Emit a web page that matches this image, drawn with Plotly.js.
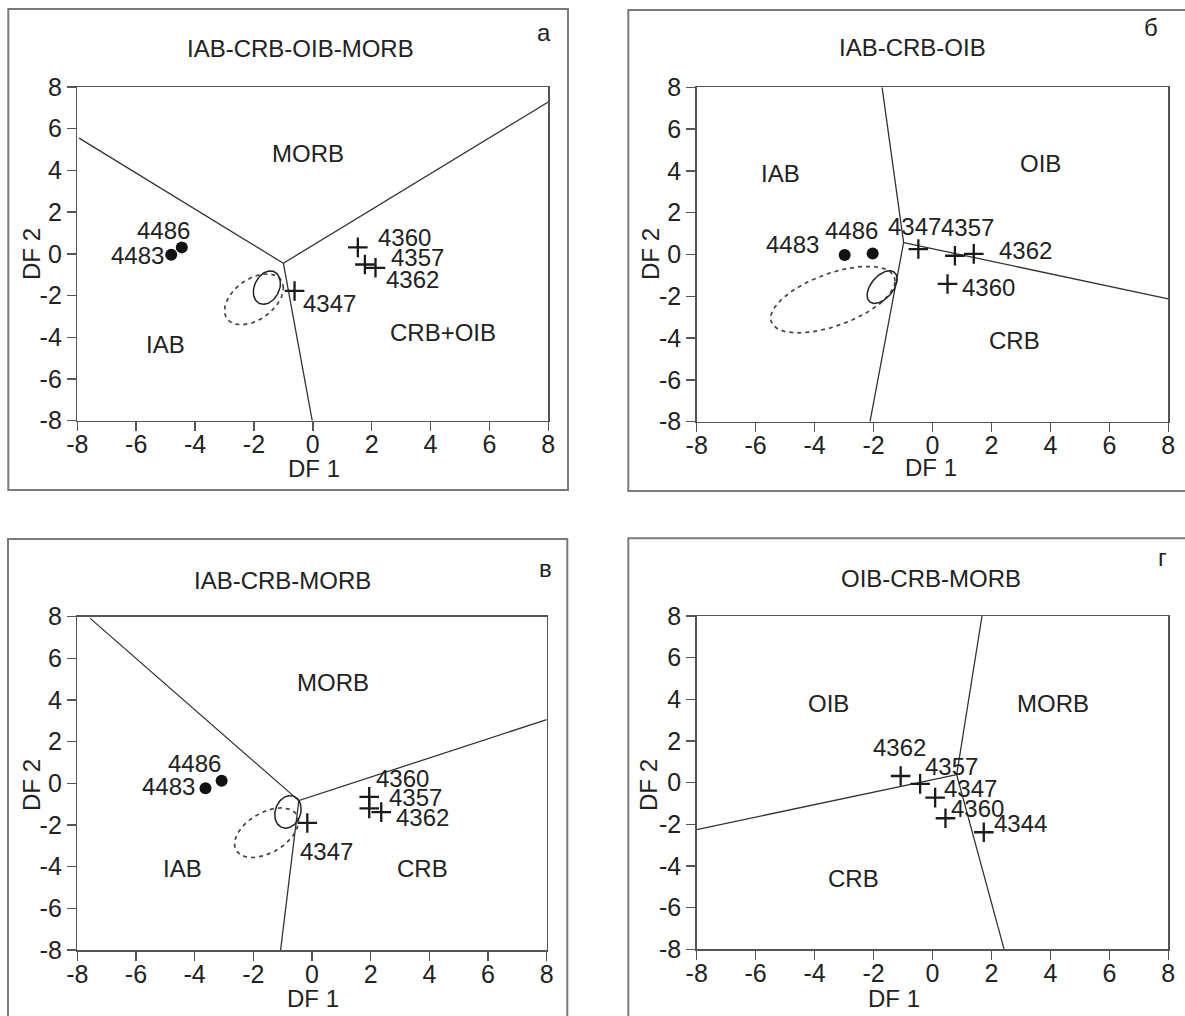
<!DOCTYPE html>
<html>
<head>
<meta charset="utf-8">
<script src="https://cdn.plot.ly/plotly-3.0.1.min.js"></script>
<style>
html,body{margin:0;padding:0;background:#fff;}
#chart{width:1185px;height:1016px;}
</style>
</head>
<body>
<div id="chart"></div>
<script>
// ---------- DATA ----------
const tickVals = [-8, -6, -4, -2, 0, 2, 4, 6, 8];
const tickText = ['-8', '-6', '-4', '-2', '0', '2', '4', '6', '8'];

// Panel а : IAB-CRB-OIB-MORB
const aLineX = [-7.94, -1.0, 8.0, null, -1.0, -0.02];
const aLineY = [5.55, -0.45, 7.28, null, -0.45, -8.0];
const aDotNames = ['4483', '4486'];
const aDotX = [-4.81, -4.45];
const aDotY = [-0.04, 0.31];
const aCrossNames = ['4360', '4357', '4362', '4347'];
const aCrossX = [1.53, 1.77, 2.13, -0.62];
const aCrossY = [0.31, -0.51, -0.67, -1.78];
const aEllSolid = [-1.56, -1.62, 0.46, 0.80, 75];   // cx, cy, rx, ry, phase
const aEllDotted = [-2.0, -2.18, 1.0, 1.22, 64];

// Panel б : IAB-CRB-OIB
const bLineX = [-1.71, -0.98, -2.12, null, -0.98, 8.0];
const bLineY = [8.0, 0.57, -8.0, null, 0.57, -2.12];
const bDotNames = ['4483', '4486'];
const bDotX = [-2.98, -2.03];
const bDotY = [-0.02, 0.05];
const bCrossNames = ['4347', '4357', '4362', '4360'];
const bCrossX = [-0.48, 0.76, 1.40, 0.51];
const bCrossY = [0.26, -0.06, 0.03, -1.41];
const bEllSolid = [-1.71, -1.56, 0.51, 0.78, 60];
const bEllDotted = [-3.38, -2.16, 2.11, 1.59, 56];

// Panel в : IAB-CRB-MORB
const cLineX = [-7.56, -0.45, 8.0, null, -0.45, -1.07];
const cLineY = [7.92, -0.83, 3.06, null, -0.83, -8.0];
const cDotNames = ['4483', '4486'];
const cDotX = [-3.63, -3.08];
const cDotY = [-0.23, 0.13];
const cCrossNames = ['4360', '4357', '4362', '4347'];
const cCrossX = [1.95, 1.95, 2.36, -0.16];
const cCrossY = [-0.65, -1.2, -1.38, -1.9];
const cEllSolid = [-0.82, -1.37, 0.45, 0.78, 80];
const cEllDotted = [-1.55, -2.37, 1.09, 1.19, 63];

// Panel г : OIB-CRB-MORB
const dLineX = [1.68, 0.82, 2.43, null, -8.0, 0.82];
const dLineY = [8.0, 0.38, -8.0, null, -2.25, 0.38];
const dCrossNames = ['4362', '4357', '4347', '4360', '4344'];
const dCrossX = [-1.08, -0.42, 0.09, 0.44, 1.74];
const dCrossY = [0.32, -0.06, -0.72, -1.71, -2.38];

// ---------- STYLE / LAYOUT ----------
const FONT = 'Liberation Sans, Arial, sans-serif';
const TXT = '#222';
const FS = 24;
const TICKFS = 25;
const W = 1185, H = 1016;

function ellipse(p) {
  const [cx, cy, rx, ry, ph] = p;
  const xs = [], ys = [];
  const n = 120;
  for (let i = 0; i <= n; i++) {
    const t = 2 * Math.PI * i / n;
    xs.push(cx + rx * Math.cos(t));
    ys.push(cy + ry * Math.cos(t - ph * Math.PI / 180));
  }
  return {xs, ys};
}

const traces = [];
function addPanel(k, lineX, lineY, dotX, dotY, crossX, crossY, ellS, ellD) {
  const xa = 'x' + (k === 1 ? '' : k), ya = 'y' + (k === 1 ? '' : k);
  traces.push({x: lineX, y: lineY, xaxis: xa, yaxis: ya, mode: 'lines', type: 'scatter',
    line: {color: '#333', width: 1.3}, hoverinfo: 'skip', cliponaxis: true});
  if (ellD) {
    const e = ellipse(ellD);
    traces.push({x: e.xs, y: e.ys, xaxis: xa, yaxis: ya, mode: 'lines', type: 'scatter',
      line: {color: '#444', width: 1.7, dash: '4px,4px'}, hoverinfo: 'skip'});
  }
  if (ellS) {
    const e = ellipse(ellS);
    traces.push({x: e.xs, y: e.ys, xaxis: xa, yaxis: ya, mode: 'lines', type: 'scatter',
      line: {color: '#222', width: 1.5}, hoverinfo: 'skip'});
  }
  if (dotX) {
    traces.push({x: dotX, y: dotY, xaxis: xa, yaxis: ya, mode: 'markers', type: 'scatter',
      marker: {symbol: 'circle', size: 12, color: '#111'}, hoverinfo: 'skip', cliponaxis: false});
  }
  traces.push({x: crossX, y: crossY, xaxis: xa, yaxis: ya, mode: 'markers', type: 'scatter',
    marker: {symbol: 'cross-thin', size: 14, line: {color: '#1a1a1a', width: 2.3}}, hoverinfo: 'skip', cliponaxis: false});
}
addPanel(1, aLineX, aLineY, aDotX, aDotY, aCrossX, aCrossY, aEllSolid, aEllDotted);
addPanel(2, bLineX, bLineY, bDotX, bDotY, bCrossX, bCrossY, bEllSolid, bEllDotted);
addPanel(3, cLineX, cLineY, cDotX, cDotY, cCrossX, cCrossY, cEllSolid, cEllDotted);
addPanel(4, dLineX, dLineY, null, null, dCrossX, dCrossY, null, null);

function px2x(p) { return p / W; }
function px2y(p) { return 1 - p / H; }

function axisBase() {
  return {range: [-8, 8],
    tickmode: 'array', tickvals: tickVals, ticktext: tickText,
    ticks: 'outside', ticklen: 9, tickwidth: 1.5, tickcolor: '#555',
    showline: true, linecolor: '#555', linewidth: 1.5, mirror: true,
    showgrid: false, zeroline: false, fixedrange: true,
    tickfont: {family: FONT, size: TICKFS, color: TXT}};
}
function xAxis(x0, x1, anchor) {
  return Object.assign(axisBase(), {domain: [px2x(x0), px2x(x1)], anchor: anchor, ticklabelstandoff: -8});
}
function yAxis(y0, y1, anchor) {
  return Object.assign(axisBase(), {domain: [px2y(y1), px2y(y0)], anchor: anchor});
}

const annotations = [];
function ann(k, x, y, text, extra) {
  const s = k === 1 ? '' : k;
  annotations.push(Object.assign({xref: 'x' + s, yref: 'y' + s, x: x, y: y, text: text,
    showarrow: false, font: {family: FONT, size: FS, color: TXT},
    xanchor: 'center', yanchor: 'middle'}, extra || {}));
}
function pann(px, py, text, extra) {
  annotations.push(Object.assign({xref: 'paper', yref: 'paper', x: px2x(px), y: px2y(py), text: text,
    showarrow: false, font: {family: FONT, size: FS, color: TXT},
    xanchor: 'center', yanchor: 'middle'}, extra || {}));
}
function labelPoints(k, names, xs, ys, shifts) {
  names.forEach((n, i) => ann(k, xs[i], ys[i], n, {xshift: shifts[i][0], yshift: shifts[i][1]}));
}

// panel titles, letters, axis titles (paper pixels)
pann(300, 48, 'IAB-CRB-OIB-MORB');
pann(912, 47, 'IAB-CRB-OIB');
pann(282, 580, 'IAB-CRB-MORB');
pann(931, 578, 'OIB-CRB-MORB');
pann(544, 33, 'а');
pann(1151, 28, 'б');
pann(545, 568, 'в');
pann(1162, 557, 'г');
pann(314, 468, 'DF 1');
pann(931, 467, 'DF 1');
pann(313, 998, 'DF 1');
pann(894, 998, 'DF 1');
pann(31, 254, 'DF 2', {textangle: -90});
pann(650, 254, 'DF 2', {textangle: -90});
pann(31, 785, 'DF 2', {textangle: -90});
pann(648, 785, 'DF 2', {textangle: -90});

// region labels
ann(1, -0.18, 4.79, 'MORB');
ann(1, -4.99, -4.34, 'IAB');
ann(1, 4.42, -3.78, 'CRB+OIB');
ann(2, -5.17, 3.87, 'IAB');
ann(2, 3.68, 4.35, 'OIB');
ann(2, 2.79, -4.13, 'CRB');
ann(3, 0.72, 4.86, 'MORB');
ann(3, -4.4, -4.07, 'IAB');
ann(3, 3.75, -4.07, 'CRB');
ann(4, -3.52, 3.78, 'OIB');
ann(4, 4.1, 3.78, 'MORB');
ann(4, -2.67, -4.59, 'CRB');

labelPoints(1, aDotNames, aDotX, aDotY, [[-34, -1], [-18, 17]]);
labelPoints(1, aCrossNames, aCrossX, aCrossY, [[47, 10], [53, 7], [37, -12], [35, -13]]);
labelPoints(2, bDotNames, bDotX, bDotY, [[-52, 10], [-21, 23]]);
labelPoints(2, bCrossNames, bCrossX, bCrossY, [[-4, 23], [13, 28], [52, 3], [41, -4]]);
labelPoints(3, cDotNames, cDotX, cDotY, [[-37, 2], [-27, 17]]);
labelPoints(3, cCrossNames, cCrossX, cCrossY, [[33, 18], [46, 11], [41, -5], [19, -29]]);
labelPoints(4, dCrossNames, dCrossX, dCrossY, [[-1, 28], [31, 17], [35, 9], [32, 10], [37, 9]]);

function box(x0, y0, x1, y1) {
  return {type: 'rect', xref: 'paper', yref: 'paper', x0: px2x(x0), x1: px2x(x1), y0: px2y(y1), y1: px2y(y0),
    line: {color: '#7a7a7a', width: 2}, fillcolor: 'rgba(0,0,0,0)', layer: 'below'};
}

const layout = {
  width: W, height: H,
  margin: {l: 0, r: 0, t: 0, b: 0},
  paper_bgcolor: '#fff', plot_bgcolor: '#fff',
  showlegend: false,
  xaxis: xAxis(77.3, 548.3, 'y'),
  yaxis: yAxis(87, 420.7, 'x'),
  xaxis2: xAxis(696.7, 1168.3, 'y2'),
  yaxis2: yAxis(87.3, 421.7, 'x2'),
  xaxis3: xAxis(77.3, 546.7, 'y3'),
  yaxis3: yAxis(616.7, 950, 'x3'),
  xaxis4: xAxis(696.7, 1168.3, 'y4'),
  yaxis4: yAxis(616, 949.3, 'x4'),
  annotations: annotations,
  shapes: [
    box(8.3, 9, 568, 490),
    box(628.3, 10, 1200, 491),
    box(8, 539, 567.3, 1030),
    box(628.3, 538.3, 1200, 1030)
  ]
};

Plotly.newPlot('chart', traces, layout, {displayModeBar: false, staticPlot: true});
</script>
</body>
</html>
